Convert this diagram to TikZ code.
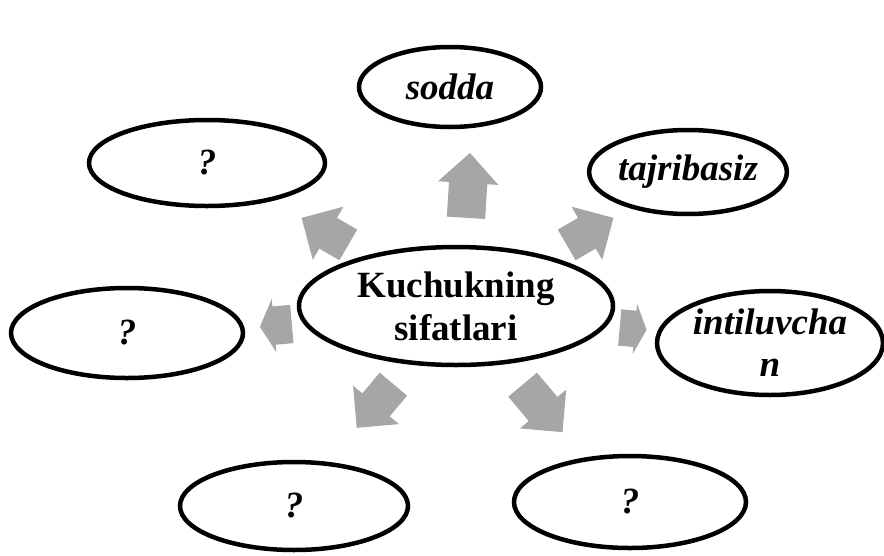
\documentclass[tikz,border=0pt]{standalone}
\usepackage{fontspec}
\setmainfont{Liberation Serif}
\usetikzlibrary{shapes.geometric,shapes.arrows}
\definecolor{arrowfill}{HTML}{A6A6A6}

\begin{document}
\begin{tikzpicture}[
        x=1pt, y=-1pt,
        bubble/.style={
            ellipse,
            draw=black,
            line width=4.5pt,
            align=center,
            inner sep=0pt,
            font=\fontsize{37}{42}\selectfont\bfseries\itshape
        },
        hub/.style={
            bubble,
            font=\fontsize{37}{43}\selectfont\bfseries
        },
        blockarrow/.style={
            single arrow,
            fill=arrowfill,
            draw=none,
            anchor=tail,
            inner xsep=0pt,
            inner ysep=18pt,
            minimum width=60pt,
            single arrow head extend=12pt
        }
    ]
        \useasboundingbox (0,0) rectangle (884,555);

        % Centre
        \node (sifat) [hub, minimum width=314pt, minimum height=118pt] at (456,306) {Kuchukning\\sifatlari};

        % Outer ellipses
        \node (sodda) [bubble, minimum width=182pt, minimum height=80pt] at (450,87) {sodda};
        \node (tajriba) [bubble, minimum width=190pt, minimum height=84pt] at (688,172) {tajribasiz};
        \node (intil) [bubble, minimum width=226pt, minimum height=104pt] at (770,343) {intiluvcha\\n};
        \node (q1) [bubble, minimum width=236pt, minimum height=86pt] at (207,163) {?};
        \node (q2) [bubble, minimum width=232pt, minimum height=90pt] at (127,333) {?};
        \node (q3) [bubble, minimum width=228pt, minimum height=88pt] at (294,506) {?};
        \node (q4) [bubble, minimum width=232pt, minimum height=92pt] at (630,502) {?};

        % Arrows (placed by their tails)
        \node (aup) [blockarrow, rotate=86.5, minimum height=65pt, inner ysep=19pt, single arrow head extend=11pt] at (466,218) {};
        \node (aur) [blockarrow, rotate=30, minimum height=54pt, inner ysep=17.5pt, single arrow head extend=13pt] at (566.5,245) {};
        \node (aul) [blockarrow, rotate=150, minimum height=54pt, inner ysep=17.5pt, single arrow head extend=13pt] at (348.5,245) {};
        \node (ar) [blockarrow, rotate=-5, minimum height=27pt, minimum width=50pt, inner ysep=18pt, single arrow head extend=7pt, single arrow tip angle=130] at (619.5,327.5) {};
        \node (al) [blockarrow, rotate=185, minimum height=32pt, minimum width=53pt, inner ysep=19pt, single arrow head extend=7.5pt, single arrow tip angle=124] at (292,324) {};
        \node (adl) [blockarrow, rotate=230, minimum height=57pt, inner ysep=17.5pt, single arrow head extend=12pt] at (393.5,384) {};
        \node (adr) [blockarrow, rotate=310, minimum height=62pt, inner ysep=18.5pt, single arrow head extend=11.5pt] at (522.5,384.5) {};

    \end{tikzpicture}
\end{document}
